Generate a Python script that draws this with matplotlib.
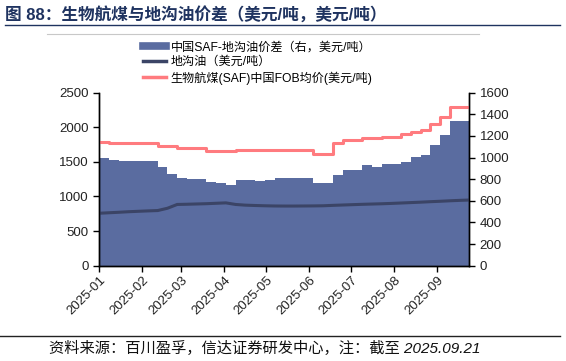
import numpy as np
import pandas as pd
import matplotlib
matplotlib.use("Agg")
import matplotlib.pyplot as plt
import matplotlib.dates as mdates
from matplotlib.lines import Line2D

plt.rcParams['font.family'] = ['Liberation Sans', 'Noto Sans CJK SC', 'DejaVu Sans']

# weekly points from 2025-01-01
dates = pd.date_range("2025-01-01", periods=38, freq="7D")
end_date = pd.Timestamp("2025-09-24")

# 生物航煤(SAF)中国FOB均价 (left axis)
saf = [1785, 1769, 1769, 1769, 1769, 1769, 1734, 1734, 1696, 1696,
       1696, 1662, 1662, 1662, 1675, 1675, 1675, 1675, 1675, 1675,
       1675, 1675, 1614, 1614, 1769, 1816, 1816, 1841, 1841, 1864,
       1864, 1899, 1937, 1961, 2050, 2150, 2295, 2295]

# 地沟油 (left axis)
uco = [758, 765, 772, 780, 786, 792, 797, 830, 885, 888,
       892, 896, 902, 908, 885, 875, 870, 866, 863, 862,
       862, 863, 864, 866, 872, 877, 882, 887, 891, 895,
       900, 906, 912, 918, 925, 931, 938, 944]
uco_end = 949

# 中国SAF-地沟油价差 (right axis)
spread = [995, 975, 968, 968, 968, 968, 910, 850, 812, 802,
          802, 777, 762, 750, 790, 790, 783, 793, 808, 808,
          814, 814, 762, 762, 839, 885, 885, 931, 916, 938,
          938, 962, 1003, 1024, 1116, 1209, 1338, 1338]

lbl_spread = "中国SAF-地沟油价差（右，美元/吨）"
lbl_uco = "地沟油（美元/吨）"
lbl_saf = "生物航煤(SAF)中国FOB均价(美元/吨)"

c_area = "#5a6ca0"
c_uco = "#3b4466"
c_saf = "#ff7b7f"

d_step = list(dates) + [end_date]
saf_s = saf + [saf[-1]]
spread_s = spread + [spread[-1]]
uco_s = uco + [uco_end]

fig = plt.figure(figsize=(5.66, 3.61), dpi=100)
ax = fig.add_axes([0.1754, 0.264, 0.6537, 0.4792])
ax2 = ax.twinx()

ax2.fill_between(d_step, spread_s, 0, step="post", color=c_area, lw=0)
ax.plot(d_step, uco_s, color=c_uco, lw=2.2)
ax.step(d_step, saf_s, where="post", color=c_saf, lw=2.2)

ax.set_zorder(ax2.get_zorder() + 1)
ax.patch.set_visible(False)

ax.set_xlim(pd.Timestamp("2025-01-01"), end_date)
ax.set_ylim(0, 2500)
ax.set_yticks(np.arange(0, 2501, 500))
ax2.set_ylim(0, 1600)
ax2.set_yticks(np.arange(0, 1601, 200))

ax.xaxis.set_major_locator(mdates.MonthLocator())
ax.xaxis.set_major_formatter(mdates.DateFormatter("%Y-%m"))
for lab in ax.get_xticklabels():
    lab.set_rotation(45)
    lab.set_ha("right")
    lab.set_rotation_mode("anchor")

for a in (ax, ax2):
    a.spines["top"].set_visible(False)
    for s in ("left", "right", "bottom"):
        a.spines[s].set_linewidth(1.0)
        a.spines[s].set_color("black")
    a.tick_params(labelsize=9.5, length=4, width=1, colors="black", labelcolor="#222222")
ax.tick_params(axis="x", pad=2)

handles = [Line2D([], [], color=c_area, lw=5.5),
           Line2D([], [], color=c_uco, lw=2.5),
           Line2D([], [], color=c_saf, lw=2.5)]
fig.legend(handles, [lbl_spread, lbl_uco, lbl_saf], loc="upper left",
           bbox_to_anchor=(0.253, 0.886), frameon=False, fontsize=8.7,
           handlelength=1.9, handletextpad=0.35, labelspacing=0.25,
           borderaxespad=0, borderpad=0)

# title, rules, source
fig.text(0.008, 0.958, "图 88：生物航煤与地沟油价差（美元/吨，美元/吨）",
         fontsize=12, fontweight="bold", color="#1f3360", va="center")
fig.add_artist(Line2D([0.008, 0.99], [0.93, 0.93], color="#1f3360", lw=1.0))
fig.add_artist(Line2D([0.083, 0.846], [0.906, 0.906], color="#c8c8c8", lw=0.8))
fig.add_artist(Line2D([0.0, 0.99], [0.069, 0.069], color="#222222", lw=1.0))
fig.text(0.086, 0.036, "资料来源：百川盈孚，信达证券研发中心，注：截至 2025.09.21",
         fontsize=11, style="italic", color="#111111", va="center")

fig.savefig("out.png", dpi=100)
